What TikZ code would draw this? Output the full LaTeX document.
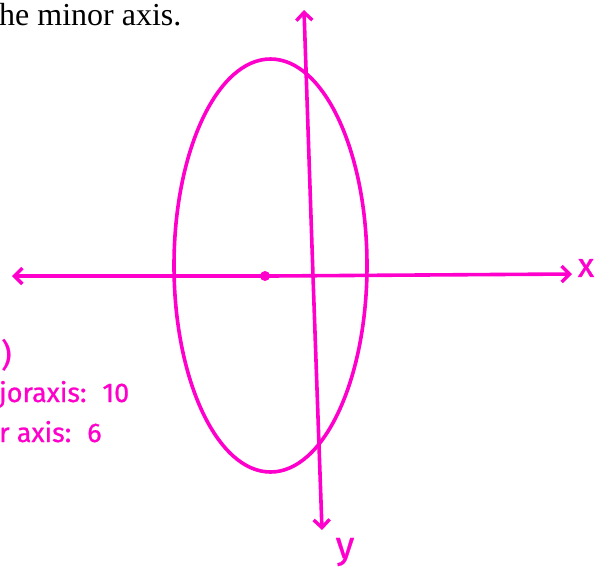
\documentclass[tikz,border=0pt]{standalone}
\usepackage{fontspec}
\setmainfont{Liberation Serif}
\newfontfamily\handfont{Fira Sans}[FakeBold=0.8]
\usetikzlibrary{arrows.meta}
\definecolor{pen}{RGB}{255,0,204}
\tikzset{
  penline/.style={draw=pen, line width=3.6pt, line cap=round, line join=round},
  barb/.style={-{Straight Barb[length=8pt,width=16pt,line width=3.4pt]}},
  handlabel/.style={text=pen, font=\handfont\fontsize{27}{27}\selectfont, inner sep=0pt},
}
\begin{document}
\begin{tikzpicture}[x=1pt,y=-1pt]
\useasboundingbox (0,0) rectangle (599,579);
% top text
\node[anchor=base west, inner sep=0pt, font=\fontsize{32}{32}\selectfont] (title) at (-1,25) {he minor axis.};
% coordinates
\coordinate (xl) at (12,276);
\coordinate (xr) at (572,274);
\coordinate (yt) at (304,10);
\coordinate (yb) at (322,530);
\coordinate (ctr) at (270.5,265.5);
\coordinate (dot) at (265,276);
% axes
\draw[penline, barb] (ctr |- xl) -- (xl);
\draw[penline, barb] (ctr |- xl) -- (xr);
\draw[penline, barb] (313,276) -- (yt);
\draw[penline, barb] (313,276) -- (yb);
% ellipse
\draw[penline] (ctr) ellipse [x radius=96.5, y radius=206.5];
\fill[pen] (dot) circle [radius=5pt];
% axis labels
\node[handlabel, font=\handfont\fontsize{34}{34}\selectfont] (xlab) at (586,268) {x};
\node[handlabel, font=\handfont\fontsize{38}{38}\selectfont] (ylab) at (345,552) {y};
% left notes
\node[handlabel, anchor=base west, font=\handfont\fontsize{32}{32}\selectfont] (paren) at (1,366) {)};
\node[handlabel, anchor=base west] (major) at (-1,402) {joraxis:\hspace{16pt}10};
\node[handlabel, anchor=base west] (minor) at (-1,442) {r axis:\hspace{16pt}6};
\end{tikzpicture}
\end{document}
